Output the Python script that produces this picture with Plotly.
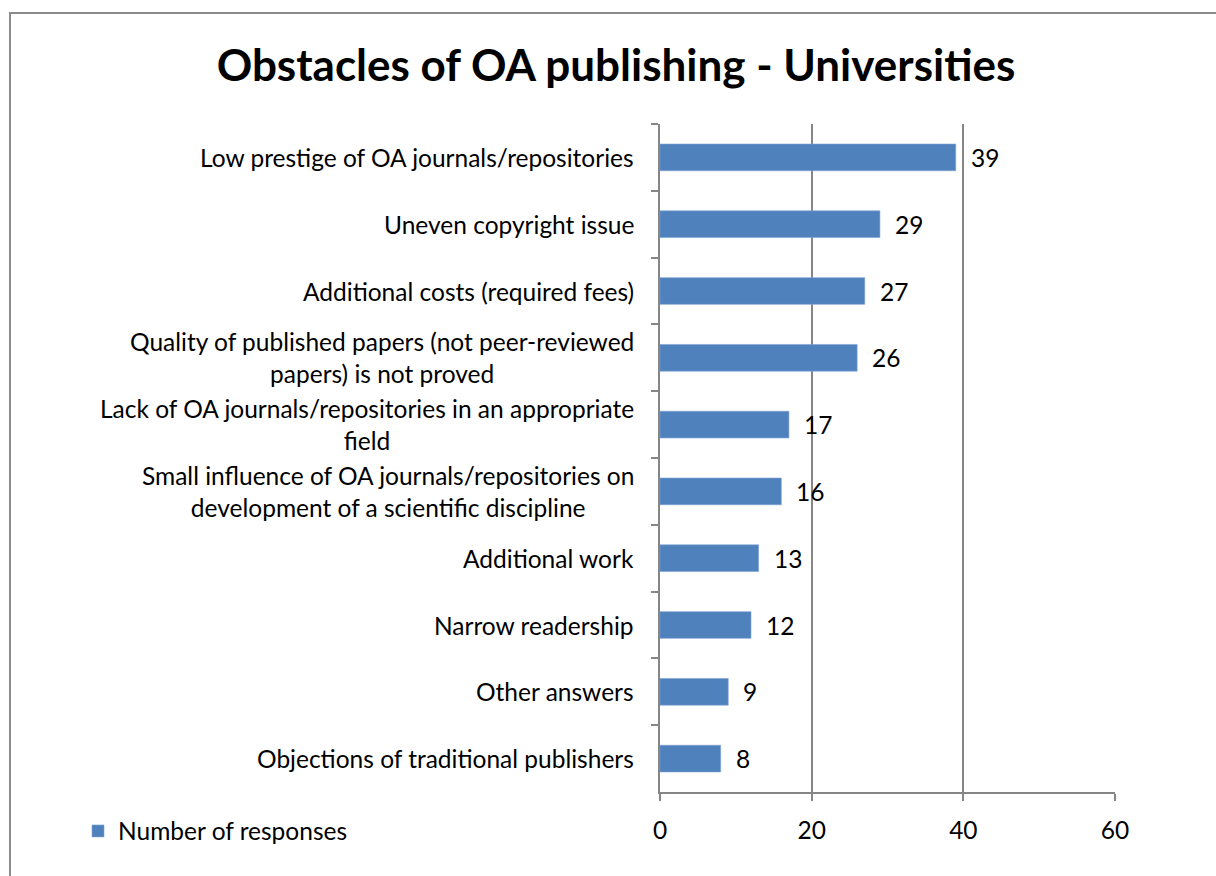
import plotly.graph_objects as go

# Survey results, listed top to bottom as shown on the chart
categories = [
    "Low prestige of OA journals/repositories",
    "Uneven copyright issue",
    "Additional costs (required fees)",
    "Quality of published papers (not peer-reviewed<br>papers) is not proved",
    "Lack of OA journals/repositories in an appropriate<br>field",
    "Small influence of OA journals/repositories on<br>development of a scientific discipline",
    "Additional work",
    "Narrow readership",
    "Other answers",
    "Objections of traditional publishers",
]
responses = [39, 29, 27, 26, 17, 16, 13, 12, 9, 8]
x_ticks = [0, 20, 40, 60]

FONT = "Lato"
FS = 24.5
BAR_COLOR = "#4F81BD"
AXIS_COLOR = "#868686"

# Plot area in pixels
W, H = 1216, 876
L, R, T, B = 660, 101, 124, 84
pw, ph = W - L - R, H - T - B

fig = go.Figure()
fig.add_trace(go.Bar(
    x=responses,
    y=categories,
    orientation="h",
    name="Number of responses",
    marker=dict(color=BAR_COLOR, line=dict(color="#7FA3D3", width=0.6)),
    width=0.4,
    showlegend=True,
))

annotations = []
# Category labels: lines centred, block right-aligned against the axis
for cat in categories:
    annotations.append(dict(
        x=0, y=cat, xref="paper", yref="y",
        text=cat, showarrow=False,
        xanchor="right", yanchor="middle", align="center",
        xshift=-24,
        font=dict(family=FONT, size=FS, color="#000000"),
    ))
# Value labels beyond the bar ends
for cat, v in zip(categories, responses):
    annotations.append(dict(
        x=v, y=cat, xref="x", yref="y",
        text=str(v), showarrow=False,
        xanchor="left", yanchor="middle",
        xshift=13,
        font=dict(family=FONT, size=FS, color="#000000"),
    ))

def px_x(p):
    return (p - L) / pw

def px_y(p):
    return (H - B - p) / ph

fig.update_layout(
    width=W, height=H,
    margin=dict(l=L, r=R, t=T, b=B),
    paper_bgcolor="white",
    plot_bgcolor="white",
    title=dict(
        text="<b>Obstacles of OA publishing - Universities</b>",
        x=616 / W, xref="container", xanchor="center",
        y=1 - 66 / H, yref="container", yanchor="middle",
        font=dict(family=FONT, size=44, color="#000000"),
    ),
    xaxis=dict(
        range=[0, 60],
        tickvals=x_ticks,
        ticktext=[str(t) for t in x_ticks],
        showgrid=True, gridcolor=AXIS_COLOR, gridwidth=1.6,
        showline=True, linecolor=AXIS_COLOR, linewidth=1.6,
        ticks="outside", ticklen=7, tickcolor=AXIS_COLOR, tickwidth=1.6,
        ticklabelstandoff=9,
        tickfont=dict(family=FONT, size=FS, color="#000000"),
        zeroline=False, fixedrange=True,
    ),
    yaxis=dict(
        autorange="reversed",
        showticklabels=False,
        showline=True, linecolor=AXIS_COLOR, linewidth=1.6,
        ticks="outside", ticklen=7, tickcolor=AXIS_COLOR, tickwidth=1.6,
        tickson="boundaries",
        showgrid=False, zeroline=False, fixedrange=True,
    ),
    legend=dict(
        orientation="h",
        x=px_x(78), xanchor="left",
        y=px_y(831), yanchor="middle",
        font=dict(family=FONT, size=FS, color="#000000"),
        itemwidth=30,
        bgcolor="rgba(0,0,0,0)",
    ),
    annotations=annotations,
    shapes=[dict(
        # outer chart border; right and bottom edges fall past the page
        type="rect", xref="paper", yref="paper",
        x0=px_x(10), x1=px_x(1230), y0=px_y(890), y1=px_y(13),
        line=dict(color="#8C8C8C", width=2),
        fillcolor="rgba(0,0,0,0)", layer="below",
    )],
    bargap=0.6,
)

fig.write_html("out.html")
